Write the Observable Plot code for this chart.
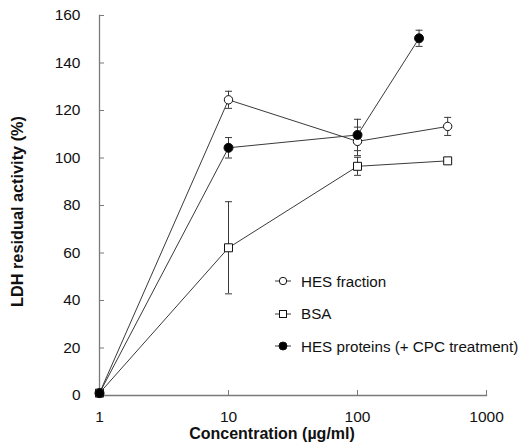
<!DOCTYPE html>
<html>
<head>
<meta charset="utf-8">
<script src="https://cdn.jsdelivr.net/npm/d3@7"></script>
<script src="https://cdn.jsdelivr.net/npm/@observablehq/plot@0.6"></script>
<style>
  body { margin: 0; background: #fff; }
  #wrap { position: relative; width: 519px; height: 443px; font-family: Arial, "Liberation Sans", sans-serif; }
  #legend { position: absolute; left: 274px; top: 265px; font-size: 15.2px; color: #111; }
  #legend .row { display: flex; align-items: center; height: 32.5px; }
  #legend svg { margin-right: 9px; }
</style>
</head>
<body>
<div id="wrap"></div>
<script>
// ---- data ----
const seriesNames = ["HES fraction", "BSA", "HES proteins (+ CPC treatment)"];
const hesFractionConc = [1, 10, 100, 500];
const hesFractionVal  = [1, 124.5, 107, 113.3];
const hesFractionErr  = [0, 3.6, 6, 3.8];
const bsaConc = [1, 10, 100, 500];
const bsaVal  = [1, 62.2, 96.5, 98.8];
const bsaErr  = [0, 19.4, 3.8, 1];
const hesProteinsConc = [1, 10, 100, 300];
const hesProteinsVal  = [1, 104.3, 109.7, 150.4];
const hesProteinsErr  = [0, 4.3, 6.6, 3.4];
const xTicks = [1, 10, 100, 1000];
const yTicks = [0, 20, 40, 60, 80, 100, 120, 140, 160];

const styles = {
  "HES fraction": {symbol: "circle", fill: "white", r: 4.2},
  "BSA": {symbol: "square", fill: "white", r: 4.5},
  "HES proteins (+ CPC treatment)": {symbol: "circle", fill: "black", r: 4.5}
};

function build(name, conc, val, err) {
  return conc.map((c, i) => ({series: name, x: c, y: val[i], e: err[i]}));
}
const sets = [
  build(seriesNames[0], hesFractionConc, hesFractionVal, hesFractionErr),
  build(seriesNames[1], bsaConc, bsaVal, bsaErr),
  build(seriesNames[2], hesProteinsConc, hesProteinsVal, hesProteinsErr)
];
const all = sets.flat();
const withErr = all.filter(d => d.e > 0);

const capSymbol = {draw(ctx) { const w = 3.5; ctx.moveTo(-w, 0); ctx.lineTo(w, 0); }};

const axisColor = "#7a7a7a";
const lineColor = "#3a3a3a";

const marks = [
  Plot.frame({anchor: "left", stroke: axisColor, strokeWidth: 1.3}),
  Plot.frame({anchor: "bottom", stroke: axisColor, strokeWidth: 1.3}),
  Plot.axisY(yTicks, {tickSize: -5, tickPadding: 24, stroke: axisColor, fill: "#111", fontSize: 15.5, label: null}),
  Plot.axisX(xTicks, {tickSize: -5, tickPadding: 20, stroke: axisColor, fill: "#111", fontSize: 15.5, label: null, tickFormat: d => String(d)}),
  ...sets.map(s => Plot.line(s, {x: "x", y: "y", stroke: lineColor, strokeWidth: 1})),
  Plot.ruleX(withErr, {x: "x", y1: d => d.y - d.e, y2: d => d.y + d.e, stroke: lineColor, strokeWidth: 1}),
  Plot.dot(withErr, {x: "x", y: d => d.y + d.e, symbol: capSymbol, stroke: lineColor, strokeWidth: 1}),
  Plot.dot(withErr, {x: "x", y: d => d.y - d.e, symbol: capSymbol, stroke: lineColor, strokeWidth: 1}),
  ...sets.map(s => {
    const st = styles[s[0].series];
    return Plot.dot(s, {x: "x", y: "y", symbol: st.symbol, r: st.r, fill: st.fill, stroke: "#111", strokeWidth: 1});
  }),
  Plot.text(["Concentration (µg/ml)"], {frameAnchor: "bottom", lineAnchor: "middle", dy: 38, dx: -21, fontWeight: "bold", fontSize: 16, fill: "#111"}),
  Plot.text(["LDH residual activity (%)"], {frameAnchor: "left", textAnchor: "middle", lineAnchor: "middle", rotate: -90, dx: -82, dy: 6, fontWeight: "bold", fontSize: 16.3, fill: "#111"})
];

const chart = Plot.plot({
  width: 519,
  height: 443,
  marginLeft: 99,
  marginRight: 33,
  marginTop: 15,
  marginBottom: 48,
  style: {fontFamily: 'Arial, "Liberation Sans", sans-serif', fontSize: "15px", background: "white"},
  x: {type: "log", domain: [1, 1000], axis: null},
  y: {domain: [0, 160], axis: null},
  marks
});

const wrap = document.getElementById("wrap");
wrap.appendChild(chart);

// legend
const legend = document.createElement("div");
legend.id = "legend";
seriesNames.forEach(name => {
  const st = styles[name];
  const row = document.createElement("div");
  row.className = "row";
  const svg = d3.create("svg").attr("width", 18).attr("height", 14);
  svg.append("line").attr("x1", 1).attr("x2", 17).attr("y1", 7).attr("y2", 7).attr("stroke", lineColor);
  if (st.symbol === "square") {
    svg.append("rect").attr("x", 5.5).attr("y", 3.5).attr("width", 7).attr("height", 7).attr("fill", st.fill).attr("stroke", "#111");
  } else {
    svg.append("circle").attr("cx", 9).attr("cy", 7).attr("r", st.r - 0.5).attr("fill", st.fill).attr("stroke", "#111");
  }
  row.appendChild(svg.node());
  const label = document.createElement("span");
  label.textContent = name;
  row.appendChild(label);
  legend.appendChild(row);
});
wrap.appendChild(legend);
</script>
</body>
</html>
